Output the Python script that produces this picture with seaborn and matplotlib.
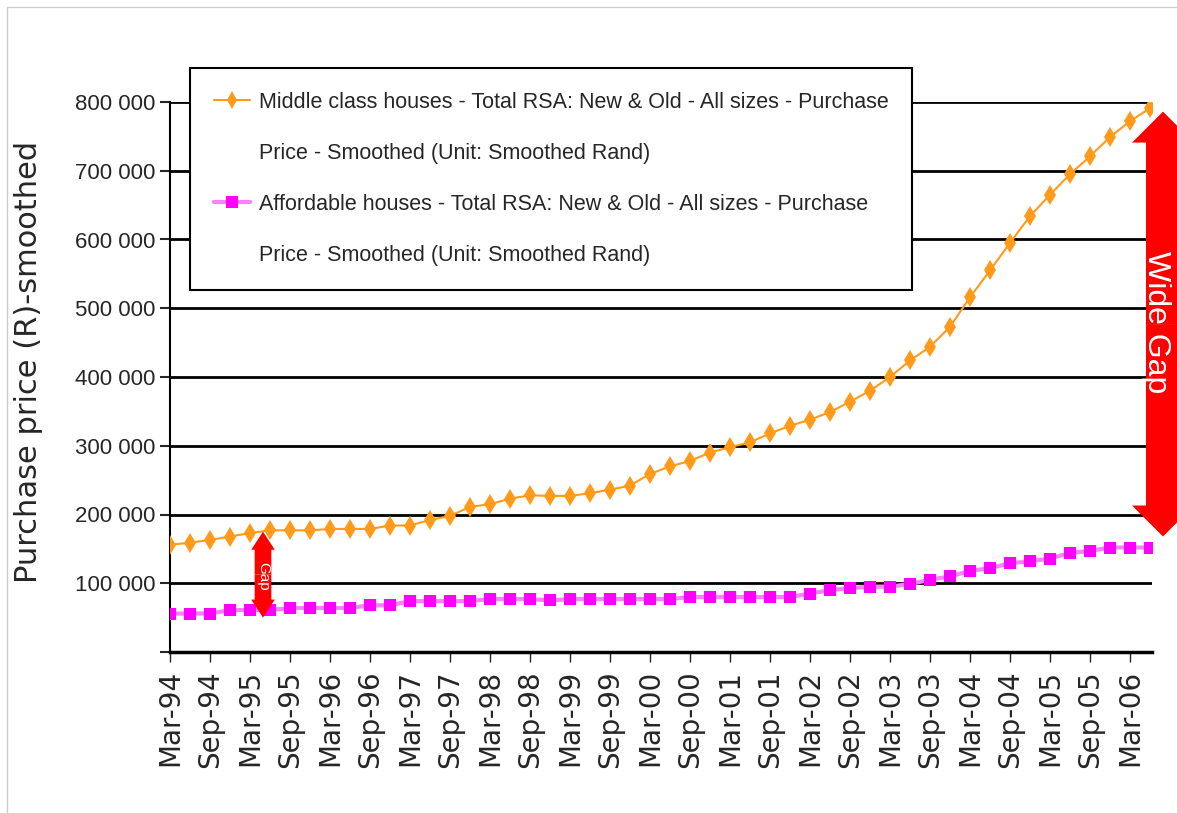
import numpy as np
import seaborn as sns
import matplotlib.pyplot as plt
from matplotlib.lines import Line2D
from matplotlib.patches import FancyArrowPatch, Rectangle
from matplotlib.ticker import FuncFormatter

# Datos (precio de compra suavizado, Rand) - trimestral desde Mar-94
middle_class = [156, 159, 163, 168, 173, 177, 177, 177, 179, 179,
                179, 184, 184, 192, 198, 211, 215, 223, 228, 227,
                227, 231, 236, 242, 259, 270, 278, 290, 298, 305,
                318, 329, 338, 349, 364, 380, 400, 424, 444, 473,
                516, 555, 595, 634, 665, 695, 721, 749, 772, 791]
affordable = [56, 56, 56, 61, 61, 61, 64, 64, 64, 64,
              68, 68, 74, 74, 74, 74, 77, 77, 77, 75,
              77, 77, 77, 77, 77, 77, 80, 80, 80, 80,
              80, 80, 85, 90, 93, 95, 95, 99, 105, 110,
              118, 122, 129, 132, 136, 144, 147, 152, 152, 152]
tick_labels = ['Mar-94', 'Sep-94', 'Mar-95', 'Sep-95', 'Mar-96', 'Sep-96', 'Mar-97',
               'Sep-97', 'Mar-98', 'Sep-98', 'Mar-99', 'Sep-99', 'Mar-00', 'Sep-00',
               'Mar-01', 'Sep-01', 'Mar-02', 'Sep-02', 'Mar-03', 'Sep-03', 'Mar-04',
               'Sep-04', 'Mar-05', 'Sep-05', 'Mar-06']
label_middle = ['Middle class houses - Total RSA: New & Old - All sizes - Purchase',
                'Price - Smoothed (Unit: Smoothed Rand)']
label_afford = ['Affordable houses - Total RSA: New & Old - All sizes - Purchase',
                'Price - Smoothed (Unit: Smoothed Rand)']

middle_class = np.array(middle_class) * 1000
affordable = np.array(affordable) * 1000
quarter = np.arange(len(middle_class))

orange = '#FF9A1A'
magenta = '#FF00FF'
arial = ['Liberation Sans', 'DejaVu Sans']

sns.set_style('white')
plt.rcParams['font.family'] = ['DejaVu Sans']

fig = plt.figure(figsize=(11.77, 8.13), dpi=100)
ax = fig.add_axes([170/1177, 161/813, 982/1177, 550/813])

# Lineas
sns.lineplot(x=quarter, y=affordable, color='#FF80FF', lw=3, ax=ax)
sns.scatterplot(x=quarter, y=affordable, marker='s', color=magenta, s=70,
                linewidth=0, ax=ax, zorder=3)
sns.lineplot(x=quarter, y=middle_class, color=orange, lw=1.5, marker='d',
             markersize=10, markeredgewidth=0, ax=ax, zorder=4)

# Ejes
ax.set_xlim(0, 49.1)
ax.set_ylim(0, 800000)
ax.set_yticks(range(0, 800001, 100000))
ax.yaxis.set_major_formatter(FuncFormatter(
    lambda v, p: '' if v == 0 else f'{int(v):,}'.replace(',', ' ')))
ax.set_xticks(range(0, 49, 2))
ax.set_xticklabels(tick_labels, rotation=90, fontsize=20)
for t in ax.get_yticklabels():
    t.set_family(arial)
    t.set_fontsize(16)
ax.tick_params(axis='y', length=7, width=1.5, pad=3.5, direction='out', left=True)
ax.tick_params(axis='x', length=7, width=1, pad=6, direction='out', bottom=True)
ax.yaxis.grid(True, color='black', lw=2)
ax.set_axisbelow(True)
for s in ['top', 'right']:
    ax.spines[s].set_visible(False)
ax.spines['left'].set_color('black')
ax.spines['left'].set_linewidth(1.5)
ax.spines['bottom'].set_color('black')
ax.spines['bottom'].set_linewidth(2.5)

ax.set_xlabel('')
ax.set_ylabel('Purchase price (R)-smoothed', fontsize=22)
ax.yaxis.set_label_coords(-0.129, 0.527)

# Leyenda
blank = Line2D([], [], alpha=0)
h_mid = Line2D([], [], color=orange, lw=1.5, marker='d', markersize=9, markeredgewidth=0)
h_aff = Line2D([], [], color='#FF80FF', lw=3, marker='s', markersize=8,
               markerfacecolor=magenta, markeredgewidth=0)
leg = fig.legend([h_mid, blank, h_aff, blank], label_middle + label_afford,
                 loc='upper left', bbox_to_anchor=(190/1177, 1 - 68/813),
                 borderaxespad=0, frameon=True, fancybox=False, edgecolor='black',
                 framealpha=1, prop={'family': arial, 'size': 15.5}, handlelength=1.7,
                 handletextpad=0.4, labelspacing=1.4, borderpad=1.1)
leg.get_frame().set_linewidth(1.5)

# Flechas rojas
def double_arrow(x, y0, y1, tail, head, head_len):
    mid = (y0 + y1) / 2
    for end in (y0, y1):
        ax.add_patch(FancyArrowPatch(
            (x, mid), (x, end), arrowstyle=f'simple,head_length={head_len},'
            f'head_width={head},tail_width={tail}', mutation_scale=1,
            color='red', lw=0, shrinkA=0, shrinkB=0, clip_on=False, zorder=6))

double_arrow(4.65, 50000, 175000, 12, 17, 13)
ax.text(4.65, 110000, 'Gap', rotation=-90, color='white', fontsize=11,
        family='Liberation Sans', ha='center', va='center', zorder=7)
double_arrow(49.65, 168000, 786000, 24.5, 44.6, 22.3)
ax.text(49.3, 480000, 'Wide Gap', rotation=-90, color='white', fontsize=23,
        family='Liberation Sans', ha='center', va='center', zorder=7, clip_on=False)

# Borde gris
fig.add_artist(Rectangle((7/1177, -0.1), 1, 1.1 - 7/813, fill=False,
                         edgecolor='#cccccc', lw=1, transform=fig.transFigure))

fig.savefig('out.png', dpi=100)
